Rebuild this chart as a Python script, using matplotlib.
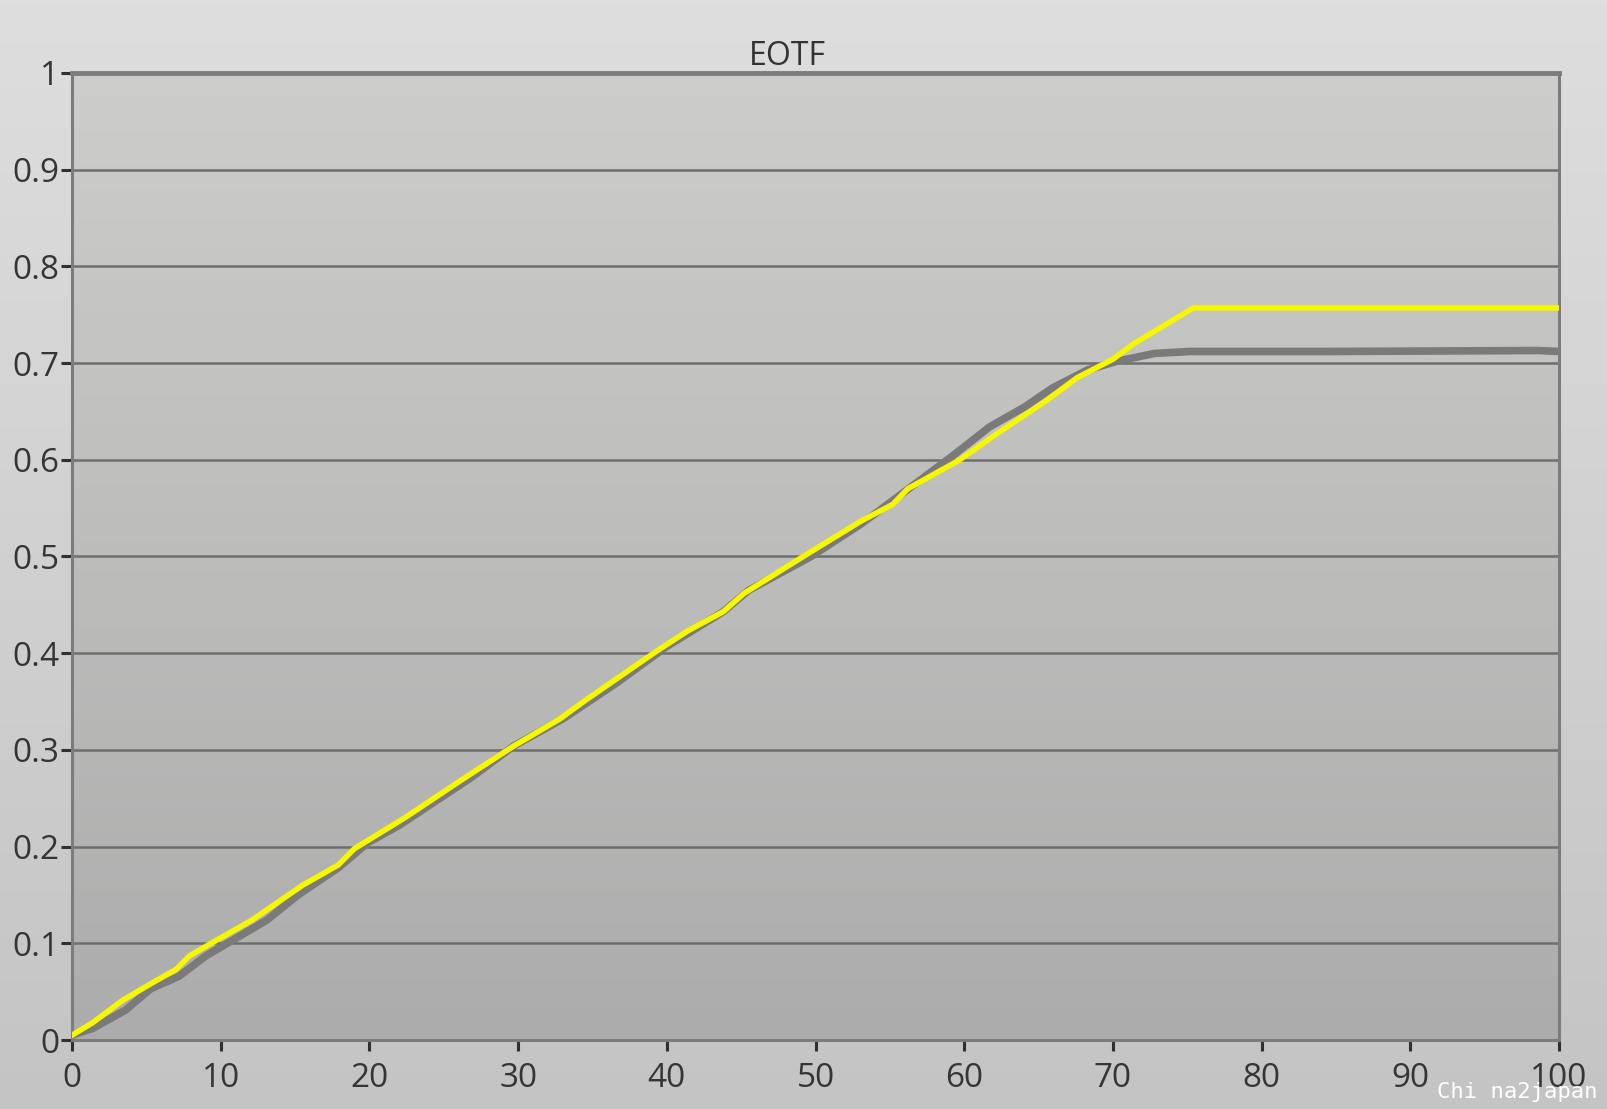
import numpy as np
import matplotlib.pyplot as plt
from matplotlib.colors import LinearSegmentedColormap

# measured EOTF (grey) and target (yellow), input level in %
measured_x = [0, 1.4, 3.6, 5.3, 7.2, 9, 11, 13.1, 15.2, 17.9, 19.9, 22, 26.9, 29.7,
              33, 36.6, 40, 43.8, 45.5, 49.7, 53.1, 55.2, 59.3, 61.7, 64.1, 65.9,
              68.3, 70.3, 72.8, 75.2, 84.8, 98.6, 100]
measured_y = [0.005, 0.012, 0.031, 0.053, 0.066, 0.087, 0.105, 0.124, 0.15, 0.178,
              0.204, 0.222, 0.272, 0.304, 0.332, 0.369, 0.407, 0.443, 0.465, 0.5,
              0.534, 0.558, 0.605, 0.634, 0.655, 0.674, 0.693, 0.702, 0.71, 0.712,
              0.712, 0.713, 0.712]

target_x = [0, 1.4, 3.4, 5.5, 7, 7.9, 9.7, 12.1, 15.5, 17.9, 19, 22.4, 26.2, 29.7,
            32.8, 34.5, 39.3, 41.4, 43.8, 45.2, 49.7, 53.1, 55.2, 56.2, 59.7, 62.1,
            65.5, 67.6, 70, 71.4, 75.4, 100]
target_y = [0.005, 0.018, 0.041, 0.06, 0.073, 0.087, 0.103, 0.124, 0.16, 0.181,
            0.198, 0.23, 0.269, 0.304, 0.332, 0.351, 0.402, 0.423, 0.443, 0.462,
            0.505, 0.537, 0.554, 0.570, 0.6, 0.626, 0.661, 0.685, 0.704, 0.72,
            0.757, 0.757]

y_ticks = [0, 0.1, 0.2, 0.3, 0.4, 0.5, 0.6, 0.7, 0.8, 0.9, 1]
y_labels = ['0', '0.1', '0.2', '0.3', '0.4', '0.5', '0.6', '0.7', '0.8', '0.9', '1']
x_ticks = [0, 10, 20, 30, 40, 50, 60, 70, 80, 90, 100]

plt.rcParams['font.family'] = ['Open Sans', 'DejaVu Sans']

fig = plt.figure(figsize=(16.07, 11.09), dpi=100)

# figure background gradient
bg = fig.add_axes([0, 0, 1, 1], zorder=-10)
grad = np.linspace(0, 1, 256).reshape(-1, 1)
bg.imshow(grad, cmap=LinearSegmentedColormap.from_list('bg', ['#dedede', '#c4c4c4']),
          aspect='auto', extent=[0, 1, 0, 1], origin='upper')
bg.set_axis_off()

ax = fig.add_axes([0.0448, 0.0622, 0.9254, 0.872])
ax.imshow(grad, cmap=LinearSegmentedColormap.from_list('ax', ['#cdcdcb', '#acacac']),
          aspect='auto', extent=[0, 100, 0, 1], origin='upper', zorder=0)

for t in y_ticks[1:]:
    ax.axhline(t, color='#6e6e6e', lw=1.8, zorder=1)

ax.plot(measured_x, measured_y, color='#7a7a7a', lw=5.5, solid_joinstyle='round',
        solid_capstyle='round', zorder=2)
ax.plot(target_x, target_y, color='#f7f700', lw=4, solid_joinstyle='round', zorder=3)

ax.set_xlim(0, 100)
ax.set_ylim(0, 1)
ax.set_xticks(x_ticks)
ax.set_yticks(y_ticks)
ax.set_yticklabels(y_labels)
ax.tick_params(axis='both', direction='out', length=8, width=2.2, color='#303030',
               labelsize=24, labelcolor='#353535')
ax.tick_params(axis='x', pad=8)
ax.tick_params(axis='y', pad=1)
for s in ax.spines.values():
    s.set_color('#7c7c7c')
    s.set_linewidth(2.2)
ax.spines['top'].set_linewidth(3.5)

ax.set_title('EOTF', fontsize=23, color='#333333', pad=6, x=0.481)

fig.text(0.994, 0.006, 'Chi na2japan', family='DejaVu Sans Mono', fontsize=16,
         color='white', ha='right', va='bottom')

fig.savefig('out.png', dpi=100)
